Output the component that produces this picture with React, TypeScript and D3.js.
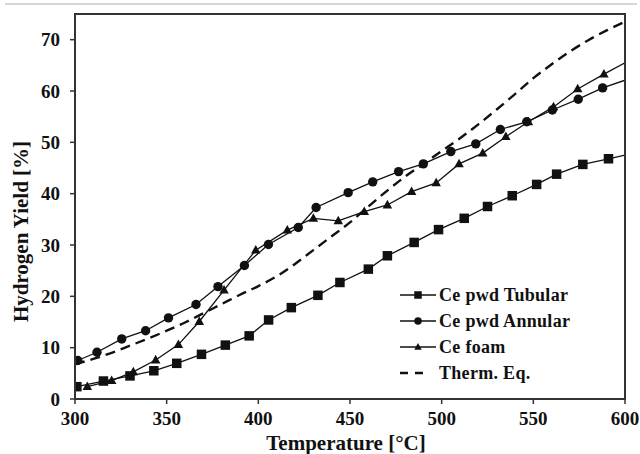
import React from "react";
import * as d3 from "d3";

// Ce powder, tubular reactor
const tubularT = [301, 315.5, 330, 343, 355.5, 369, 382, 395, 405.6, 418, 432.5, 444.5, 460, 470.4, 485, 498.3, 512.3, 525, 538.5, 551.8, 562.7, 577, 591];
const tubularY = [2.4, 3.5, 4.5, 5.5, 6.95, 8.7, 10.5, 12.3, 15.4, 17.8, 20.2, 22.7, 25.3, 27.9, 30.5, 33.0, 35.2, 37.5, 39.6, 41.8, 43.8, 45.7, 46.8];

// Ce powder, annular reactor
const annularT = [301.5, 312, 325.5, 338.5, 351, 366, 378, 392.4, 405.5, 421.8, 431.5, 449, 462.4, 476.5, 490, 505, 518.6, 532, 546.4, 560.4, 574.5, 587.8];
const annularY = [7.5, 9.1, 11.7, 13.3, 15.8, 18.4, 21.9, 26.0, 30.1, 33.4, 37.3, 40.2, 42.3, 44.3, 45.8, 48.2, 49.7, 52.5, 54.0, 56.3, 58.4, 60.6];

// Ce foam
const foamT = [306.7, 320, 331.8, 344, 356.4, 367.8, 381.3, 398.6, 415.8, 430, 443.6, 457.8, 470.4, 483.6, 497, 509.5, 522.4, 535, 547.3, 561, 574.2, 588.5];
const foamY = [2.4, 3.6, 5.3, 7.6, 10.6, 15.1, 21.2, 29.0, 32.9, 35.2, 34.7, 36.5, 37.8, 40.4, 42.1, 45.8, 47.9, 51.1, 54.0, 56.9, 60.4, 63.3];

// Value each measured trend line reaches at the right edge (600 °C)
const edgeT = 600;
const tubularEdge = 47.5;
const annularEdge = 62.1;
const foamEdge = 65.5;

// Thermodynamic equilibrium
const thermT = [300, 310, 320, 330, 340, 350, 360, 370, 380, 390, 400, 410, 420, 430, 440, 450, 460, 470, 480, 490, 500, 510, 520, 530, 540, 550, 560, 570, 580, 590, 600];
const thermY = [6.8, 7.8, 9.0, 10.4, 11.8, 13.3, 14.9, 16.7, 18.5, 20.3, 22.0, 23.9, 26.3, 29.0, 31.7, 34.4, 37.5, 40.5, 43.3, 45.8, 48.3, 50.8, 53.5, 56.4, 59.4, 62.5, 65.2, 67.7, 69.9, 71.8, 73.5];

const xTicks = [300, 350, 400, 450, 500, 550, 600];
const yTicks = [0, 10, 20, 30, 40, 50, 60, 70];

const legendLabels = ["Ce pwd Tubular", "Ce pwd Annular", "Ce foam", "Therm. Eq."];

const FONT = "'Liberation Serif', 'Times New Roman', serif";
const INK = "#111";

type Pt = [number, number];
const zip = (a: number[], b: number[]): Pt[] => a.map((v, i) => [v, b[i]]);

function Marker({ kind, x, y, s }: { kind: string; x: number; y: number; s: number }) {
  if (kind === "square") {
    return <rect x={x - s / 2} y={y - s / 2} width={s} height={s} fill={INK} />;
  }
  if (kind === "circle") {
    return <circle cx={x} cy={y} r={s / 2} fill={INK} />;
  }
  const h = s * 0.9;
  return (
    <path
      d={`M${x},${y - h * 0.6}L${x + s / 2},${y + h * 0.4}L${x - s / 2},${y + h * 0.4}Z`}
      fill={INK}
    />
  );
}

export default function App() {
  const W = 640;
  const H = 454;
  const left = 75, right = 625, top = 14, bottom = 399;

  const x = d3.scaleLinear().domain([300, 600]).range([left, right]);
  const y = d3.scaleLinear().domain([0, 75]).range([bottom, top]);

  const line = d3.line<Pt>().x((d) => x(d[0])).y((d) => y(d[1]));
  const smooth = d3.line<Pt>().x((d) => x(d[0])).y((d) => y(d[1])).curve(d3.curveMonotoneX);

  const series = [
    { kind: "square", pts: zip(tubularT, tubularY), edge: tubularEdge, size: 9.5 },
    { kind: "circle", pts: zip(annularT, annularY), edge: annularEdge, size: 9.4 },
    { kind: "triangle", pts: zip(foamT, foamY), edge: foamEdge, size: 9.5 },
  ];

  const legendX = 400;
  const legendRows = [295, 321, 347, 373];

  return (
    <svg width={W} height={H} style={{ display: "block", position: "absolute", left: 0, top: 0 }} fontFamily={FONT}>
      <rect x={0} y={0} width={W} height={H} fill="#fff" />
      <line x1={5} x2={637} y1={4} y2={4} stroke="#c8c8c8" strokeWidth={1.6} />

      <defs>
        <clipPath id="plotArea">
          <rect x={left} y={top} width={right - left} height={bottom - top} />
        </clipPath>
      </defs>

      <g clipPath="url(#plotArea)">
        <path
          d={smooth(zip(thermT, thermY)) || ""}
          fill="none"
          stroke={INK}
          strokeWidth={2.4}
          strokeDasharray="10,6"
        />
        {series.map((s, i) => (
          <g key={i}>
            <path
              d={line([...s.pts, [edgeT, s.edge] as Pt]) || ""}
              fill="none"
              stroke={INK}
              strokeWidth={1.3}
            />
            {s.pts.map((p, j) => (
              <Marker key={j} kind={s.kind} x={x(p[0])} y={y(p[1])} s={s.size} />
            ))}
          </g>
        ))}
      </g>

      {/* frame */}
      <rect x={left} y={top} width={right - left} height={bottom - top} fill="none" stroke="#333" strokeWidth={2} />

      {/* x axis */}
      {xTicks.map((t) => (
        <g key={t}>
          <line x1={x(t)} x2={x(t)} y1={bottom} y2={bottom + 5} stroke="#333" strokeWidth={1.5} />
          <text x={x(t)} y={425} textAnchor="middle" fontSize={19} fontWeight="bold" fill={INK}>
            {t}
          </text>
        </g>
      ))}

      {/* y axis */}
      {yTicks.map((t) => (
        <g key={t}>
          <line x1={left - 5} x2={left} y1={y(t)} y2={y(t)} stroke="#333" strokeWidth={1.5} />
          <text x={60} y={y(t) + 6.5} textAnchor="end" fontSize={19} fontWeight="bold" fill={INK}>
            {t}
          </text>
        </g>
      ))}

      <text x={346} y={449.5} textAnchor="middle" fontSize={21} fontWeight="bold" fill={INK}>
        Temperature [°C]
      </text>
      <text
        transform="translate(28,231.5) rotate(-90)"
        textAnchor="middle"
        fontSize={21}
        fontWeight="bold"
        fill={INK}
      >
        Hydrogen Yield [%]
      </text>

      {/* legend */}
      {legendLabels.map((label, i) => {
        const ly = legendRows[i];
        const s = series[i];
        return (
          <g key={label}>
            {s ? (
              <>
                <line x1={legendX} x2={legendX + 36} y1={ly} y2={ly} stroke={INK} strokeWidth={1.3} />
                <Marker kind={s.kind} x={legendX + 18} y={ly} s={7.5} />
              </>
            ) : (
              <line
                x1={legendX}
                x2={legendX + 24}
                y1={ly}
                y2={ly}
                stroke={INK}
                strokeWidth={2.4}
                strokeDasharray="8,7"
              />
            )}
            <text x={legendX + 39} y={ly + 6} fontSize={18} fontWeight="bold" letterSpacing={0.3} fill={INK}>
              {label}
            </text>
          </g>
        );
      })}
    </svg>
  );
}
